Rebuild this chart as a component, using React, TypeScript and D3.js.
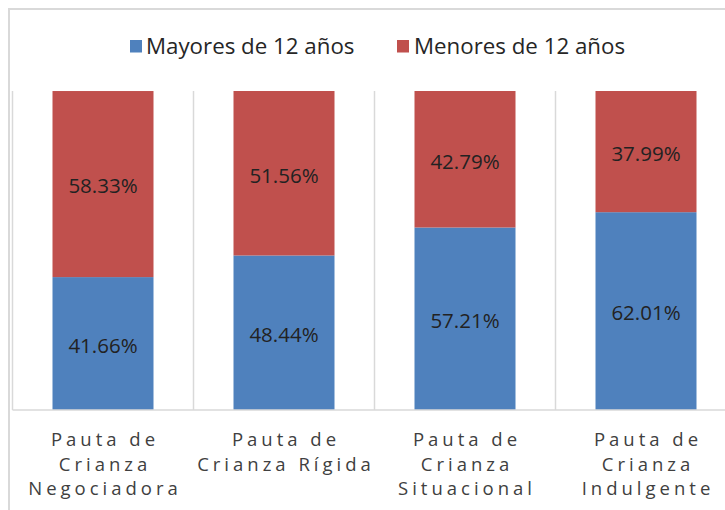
import React from "react";
import * as d3 from "d3";

const categories: string[][] = [
  ["Pauta de", "Crianza", "Negociadora"],
  ["Pauta de", "Crianza Rígida"],
  ["Pauta de", "Crianza", "Situacional"],
  ["Pauta de", "Crianza", "Indulgente"],
];
const mayores: number[] = [41.66, 48.44, 57.21, 62.01];
const menores: number[] = [58.33, 51.56, 42.79, 37.99];
const seriesNames: string[] = ["Mayores de 12 años", "Menores de 12 años"];
const colors: string[] = ["#4F81BD", "#C0504D"];

export default function App() {
  const W = 725, H = 510;
  const left = 12.5, right = 736.5, top = 91, bottom = 410;
  const x = d3.scaleBand<number>().domain(d3.range(categories.length)).range([left, right]).paddingInner(0).paddingOuter(0);
  const y = d3.scaleLinear().domain([0, 100]).range([bottom, top]);
  const bw = 101;
  const font = "'Open Sans', sans-serif";
  const stackData = categories.map((_, i) => ({ i, a: mayores[i], b: menores[i] }));
  const stack = d3.stack<any>().keys(["a", "b"])(stackData);

  return (
    <svg width={W} height={H} style={{ position: "absolute", left: 0, top: 0, background: "#fff" }}>
      <rect x={9} y={9} width={800} height={600} fill="#fff" stroke="#d9d9d9" strokeWidth={2} />
      {d3.range(categories.length + 1).map((i) => {
        const gx = i < categories.length ? x(i)! : right;
        return <line key={i} x1={gx} x2={gx} y1={top} y2={bottom} stroke="#d9d9d9" strokeWidth={1.5} />;
      })}
      {stack.map((s, si) =>
        s.map((d: any, i: number) => {
          const cx = x(i)! + x.bandwidth() / 2;
          const y0 = y(d[1]);
          const y1 = y(d[0]);
          const val = si === 0 ? mayores[i] : menores[i];
          return (
            <g key={si + "-" + i}>
              <rect x={cx - bw / 2} y={y0} width={bw} height={y1 - y0} fill={colors[si]} />
              <text x={cx} y={(y0 + y1) / 2 + 2} dy="0.36em" textAnchor="middle" fontFamily={font} fontSize={20.5} fill="#222">
                {val.toFixed(2)}%
              </text>
            </g>
          );
        })
      )}
      <line x1={left} x2={right} y1={bottom} y2={bottom} stroke="#d9d9d9" strokeWidth={1.5} />
      {categories.map((lines, i) => {
        const cx = x(i)! + x.bandwidth() / 2;
        return (
          <text key={i} textAnchor="middle" fontFamily={font} fontSize={18.5} fill="#404040" letterSpacing={4}>
            {lines.map((l, k) => (
              <tspan key={k} x={cx + 2} y={446 + k * 24.5}>{l}</tspan>
            ))}
          </text>
        );
      })}
      <rect x={130} y={40} width={12} height={12.5} fill={colors[0]} />
      <text x={146} y={53.5} fontFamily={font} fontSize={22.3} fill="#262626">{seriesNames[0]}</text>
      <rect x={397} y={40} width={12} height={12.5} fill={colors[1]} />
      <text x={414} y={53.5} fontFamily={font} fontSize={22.3} fill="#262626">{seriesNames[1]}</text>
    </svg>
  );
}
